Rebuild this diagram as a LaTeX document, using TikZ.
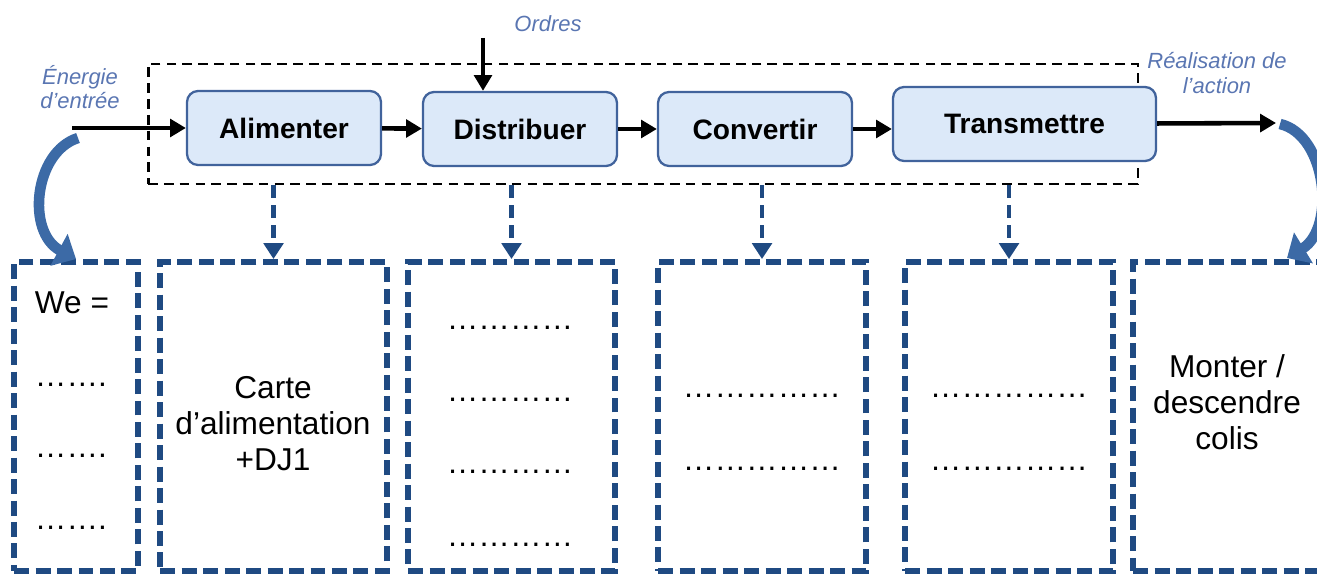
\documentclass[tikz,border=0pt]{standalone}
\usepackage{fontspec}
\setmainfont{Liberation Sans}
\usepackage{xcolor}
\usepackage{tikz}
\usetikzlibrary{arrows.meta, positioning, calc}
\definecolor{bleufonce}{HTML}{1F4A82}
\definecolor{bleutrait}{HTML}{41639C}
\definecolor{bleufond}{HTML}{DCE9F9}
\definecolor{bleutexte}{HTML}{5A76B2}
\definecolor{bleucourbe}{HTML}{3C6AA6}
\tikzset{
    fonction/.style={draw=bleutrait, line width=1.3pt, fill=bleufond, rounded corners=0.22cm,
        minimum width=3.88cm, minimum height=1.48cm, font=\fontsize{16}{19}\selectfont\bfseries},
    solution/.style={draw=bleufonce, line width=3.4pt, dash pattern=on 0.3cm off 0.13cm,
        minimum height=6.18cm},
    texte/.style={align=center, font=\fontsize{18}{20.5}\selectfont},
    pointilles/.style={anchor=base, font=\fontsize{18}{20}\selectfont},
    etiquette/.style={text=bleutexte, align=center, font=\fontsize{12.5}{14}\selectfont\itshape},
    flux/.style={line width=2.6pt, -{Triangle[length=9pt,width=10pt]}},
    lien/.style={bleufonce, line width=2.7pt, dash pattern=on 0.26cm off 0.14cm, -{Triangle[length=9pt,width=11pt]}},
    courbe/.style={bleucourbe, line width=6pt, -{Triangle[length=11pt,width=20pt]}}
}

\begin{document}
\begin{tikzpicture}[x=0.02cm, y=-0.02cm]
    \useasboundingbox (0,0) rectangle (1317,574);

    % Chaine d'energie (cadre pointille noir)
    \node[draw, line width=1.6pt, dash pattern=on 5.5pt off 3.5pt,
          minimum width=19.8cm, minimum height=2.4cm] (chaine) at (643,124) {};

    % Fonctions
    \node[fonction] (alim) at (284,128) {Alimenter};
    \node[fonction] (distrib) at (520,129) {Distribuer};
    \node[fonction] (conv) at (755,129) {Convertir};
    \node[fonction, minimum width=5.26cm] (trans) at (1024.5,124) {Transmettre};

    % Entree, ordres, sortie
    \coordinate (entree) at (72,128);
    \coordinate (ordres) at (483,38);
    \coordinate (sortie) at (1276,123);
    \draw[flux] (entree) -- (alim);
    \draw[flux] (alim) -- (distrib);
    \draw[flux] (distrib) -- (conv);
    \draw[flux] (conv.east) -- (conv.east -| trans.west);
    \draw[flux] (trans) -- (sortie);
    \draw[flux] (ordres) -- (ordres |- distrib.north);

    \node[etiquette] (lblentree) at (80,87) {Énergie\\d’entrée};
    \node[etiquette] (lblordres) at (548,24) {Ordres};
    \node[etiquette] (lblaction) at (1217,73) {Réalisation de\\l’action};

    % Cadres des solutions
    \node[solution, minimum width=2.48cm] (b1) at (76,416.5) {};
    \node[solution, minimum width=4.54cm] (b2) at (273.5,416.5) {};
    \node[solution, minimum width=4.14cm] (b3) at (511.5,416.5) {};
    \node[solution, minimum width=4.16cm] (b4) at (762,416.5) {};
    \node[solution, minimum width=4.16cm] (b5) at (1009,416.5) {};
    \node[solution, minimum width=3.84cm] (b6) at (1229,416.5) {};

    \foreach \b in {b2,b3,b4,b5}
        \draw[lien] (chaine.south -| \b.north) -- (\b.north);

    % Fleches courbes
    \coordinate (departg) at (78,138);
    \coordinate (departd) at (1280,124);
    \coordinate (arriveed) at (1287,258);
    \draw[courbe] (departg) .. controls (34,152) and (26,232) .. (b1.north);
    \draw[courbe] (departd) .. controls (1327,135) and (1336,228) .. (arriveed);

    % Textes des cadres
    \node[texte] (we) at (72,303) {We =};
    \node[texte] (carte) at (273,424) {Carte\\d’alimentation\\+DJ1};
    \node[texte] (monter) at (1227,402) {Monter /\\descendre\\colis};

    \foreach \y [count=\i] in {386,457,529}
        \node[pointilles] (pw\i) at (71,\y) {…….};
    \foreach \y [count=\i] in {329,401,473,546}
        \node[pointilles] (pd\i) at (510,\y) {…………};
    \foreach \y [count=\i] in {397,470}{
        \node[pointilles] (pc\i) at (762,\y) {……………};
        \node[pointilles] (pt\i) at (1009,\y) {……………};
    }
\end{tikzpicture}
\end{document}
